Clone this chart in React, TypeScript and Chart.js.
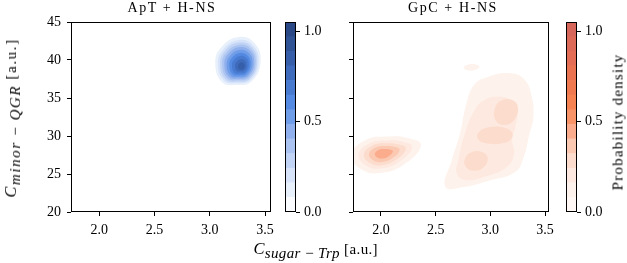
import React, { useEffect, useLayoutEffect, useRef } from 'react';
import { Chart, registerables } from 'chart.js';

Chart.register(...registerables);

// ---------- axis ticks / colorbar levels ----------
const xTicks = [2.0, 2.5, 3.0, 3.5];
const yTicks = [20, 25, 30, 35, 40, 45];
const cbarTicks = [0.0, 0.5, 1.0];
const cbarLevels = [0, 0.081, 0.162, 0.242, 0.323, 0.404, 0.485, 0.565, 0.646, 0.727, 0.808, 0.888, 0.969, 1.05];

// ---------- colours of the contour bands (style) ----------
const blueBands = [
  'rgb(250,252,255)', 'rgb(232,240,252)', 'rgb(214,227,249)', 'rgb(194,212,245)',
  'rgb(170,195,240)', 'rgb(143,176,236)', 'rgb(112,157,232)', 'rgb(84,138,226)',
  'rgb(72,122,208)', 'rgb(63,107,188)', 'rgb(55,94,168)', 'rgb(48,83,150)', 'rgb(42,72,134)',
];
const orangeBands = [
  'rgb(255,248,245)', 'rgb(254,242,236)', 'rgb(253,233,223)', 'rgb(252,220,205)',
  'rgb(251,200,178)', 'rgb(250,172,140)', 'rgb(248,148,104)', 'rgb(246,130,82)',
  'rgb(240,121,80)', 'rgb(234,115,82)', 'rgb(228,110,85)', 'rgb(221,106,88)', 'rgb(214,102,90)',
];

type Pt = [number, number];

// ---------- ApT + H-NS density contours (x = C_sugar-Trp, y = C_minor-QGR) ----------
const aptL1: Pt[] = [[3.46, 39.8], [3.40, 42.3], [3.25, 43.0], [3.10, 41.6], [3.05, 39.5], [3.11, 37.1], [3.24, 36.7], [3.38, 37.2]];
const aptL2: Pt[] = [[3.443, 39.73], [3.389, 41.98], [3.254, 42.61], [3.119, 41.35], [3.074, 39.46], [3.128, 37.30], [3.245, 36.94], [3.371, 37.39]];
const aptL3: Pt[] = [[3.429, 39.67], [3.380, 41.72], [3.257, 42.30], [3.134, 41.15], [3.093, 39.43], [3.142, 37.46], [3.249, 37.13], [3.364, 37.54]];
const aptL4: Pt[] = [[3.416, 39.62], [3.371, 41.47], [3.260, 41.99], [3.149, 40.95], [3.112, 39.40], [3.157, 37.62], [3.253, 37.32], [3.357, 37.69]];
const aptL5: Pt[] = [[3.402, 39.56], [3.363, 41.21], [3.264, 41.67], [3.165, 40.75], [3.132, 39.36], [3.171, 37.78], [3.257, 37.52], [3.349, 37.85]];
const aptL6: Pt[] = [[3.387, 39.50], [3.353, 40.92], [3.267, 41.32], [3.182, 40.53], [3.153, 39.33], [3.187, 37.96], [3.262, 37.73], [3.341, 38.02]];
const aptL7: Pt[] = [[3.370, 39.43], [3.342, 40.60], [3.271, 40.93], [3.201, 40.28], [3.177, 39.29], [3.205, 38.16], [3.267, 37.97], [3.332, 38.21]];
const aptL8: Pt[] = [[3.353, 39.36], [3.331, 40.28], [3.275, 40.54], [3.220, 40.03], [3.201, 39.25], [3.223, 38.36], [3.272, 38.21], [3.323, 38.40]];
const aptL9: Pt[] = [[3.334, 39.28], [3.319, 39.93], [3.280, 40.11], [3.241, 39.75], [3.228, 39.20], [3.243, 38.58], [3.277, 38.48], [3.313, 38.61]];
const aptL10: Pt[] = [[3.316, 39.21], [3.307, 39.58], [3.284, 39.69], [3.262, 39.48], [3.254, 39.16], [3.263, 38.80], [3.283, 38.74], [3.304, 38.82]];

// ---------- GpC + H-NS density contours ----------
const gpcLeftL1: Pt[] = [[2.366, 28.82], [2.244, 29.74], [2.065, 29.93], [1.86, 29.47], [1.726, 27.5], [1.815, 25.66], [1.993, 25.13], [2.217, 26.32]];
const gpcLeftL2: Pt[] = [[2.286, 28.56], [2.192, 29.27], [2.055, 29.42], [1.897, 29.06], [1.794, 27.55], [1.862, 26.13], [1.999, 25.72], [2.172, 26.64]];
const gpcLeftL3: Pt[] = [[2.228, 28.37], [2.154, 28.92], [2.047, 29.04], [1.924, 28.76], [1.844, 27.58], [1.897, 26.48], [2.004, 26.16], [2.138, 26.87]];
const gpcLeftL4: Pt[] = [[2.172, 28.19], [2.119, 28.60], [2.040, 28.68], [1.950, 28.48], [1.891, 27.61], [1.930, 26.80], [2.008, 26.57], [2.107, 27.09]];
const gpcLeftL5: Pt[] = [[2.110, 27.99], [2.078, 28.23], [2.032, 28.28], [1.978, 28.16], [1.944, 27.65], [1.967, 27.17], [2.013, 27.03], [2.071, 27.34]];
const gpcRightL1: Pt[] = [
  [2.589, 23.33], [2.648, 26.84], [2.723, 30.36], [2.782, 34.3], [2.851, 36.71], [2.976, 37.76], [3.184, 38.25],
  [3.315, 37.37], [3.378, 35.17], [3.393, 32.54], [3.351, 29.91], [3.306, 27.28], [3.226, 25.26], [2.976, 24.08], [2.768, 23.33],
];
const gpcTopL1: Pt[] = [[2.90, 39.1], [2.86, 39.45], [2.80, 39.4], [2.755, 39.0], [2.79, 38.65], [2.86, 38.68]];
const gpcRightL2: Pt[] = [
  [2.693, 25.09], [2.708, 26.84], [2.768, 30.36], [2.857, 33.42], [2.946, 34.74], [3.065, 35.17], [3.184, 34.74],
  [3.244, 33.42], [3.229, 31.22], [3.199, 29.47], [3.217, 27.72], [3.154, 25.96], [2.946, 24.64], [2.768, 24.21],
];
const gpcBlobAL3: Pt[] = [[3.253, 33.68], [3.199, 34.74], [3.092, 34.61], [3.038, 33.42], [3.047, 32.11], [3.119, 31.45], [3.208, 31.97]];
const gpcBlobBL3: Pt[] = [[3.199, 30.39], [3.137, 31.05], [3.003, 31.18], [2.896, 30.53], [2.887, 29.61], [2.976, 29.01], [3.119, 29.08], [3.19, 29.61]];
const gpcBlobCL3: Pt[] = [[2.976, 27.11], [2.922, 27.89], [2.833, 27.89], [2.771, 27.11], [2.771, 26.05], [2.833, 25.46], [2.931, 25.79]];

const aptContours = [
  { level: 1, pts: aptL1 }, { level: 2, pts: aptL2 }, { level: 3, pts: aptL3 }, { level: 4, pts: aptL4 },
  { level: 5, pts: aptL5 }, { level: 6, pts: aptL6 }, { level: 7, pts: aptL7 }, { level: 8, pts: aptL8 },
  { level: 9, pts: aptL9 }, { level: 10, pts: aptL10 },
];
const gpcContours = [
  { level: 1, pts: gpcLeftL1 }, { level: 2, pts: gpcLeftL2 }, { level: 3, pts: gpcLeftL3 },
  { level: 4, pts: gpcLeftL4 }, { level: 5, pts: gpcLeftL5 },
  { level: 1, pts: gpcRightL1 }, { level: 1, pts: gpcTopL1 }, { level: 2, pts: gpcRightL2 },
  { level: 3, pts: gpcBlobAL3 }, { level: 3, pts: gpcBlobBL3 }, { level: 3, pts: gpcBlobCL3 },
];

const FONT = 'Liberation Serif';
const tickFont = { family: FONT, size: 14 };

// close every contour line so the spline runs smoothly round the loop
const loopPlugin = {
  id: 'closedContours',
  afterDatasetsUpdate(chart: any) {
    chart.data.datasets.forEach((_: any, i: number) => {
      const line = chart.getDatasetMeta(i).dataset;
      if (line) {
        line._loop = true;
        line._fullLoop = true;
        line._pointsUpdated = false;
        line._segments = undefined;
        line._path = undefined;
      }
    });
  },
};

const framePlugin = {
  id: 'frame',
  afterDraw(chart: any) {
    const { ctx, chartArea } = chart;
    const { left, top, right, bottom } = chartArea;
    ctx.save();
    ctx.strokeStyle = '#000';
    ctx.lineWidth = 1;
    ctx.strokeRect(Math.round(left) + 0.5, Math.round(top) + 0.5, Math.round(right - left) - 1, Math.round(bottom - top) - 1);
    ctx.restore();
  },
};

const tickGrid = { drawOnChartArea: false, drawTicks: true, tickLength: 4, color: '#000', lineWidth: 1 };

function makePanel(canvas: HTMLCanvasElement, contours: { level: number; pts: Pt[] }[], bands: string[], xMax: number, showYLabels: boolean, yWidth: number, padRight: number) {
  const datasets = contours.map((c) => ({
    data: c.pts.map(([x, y]) => ({ x, y })),
    backgroundColor: bands[c.level],
    borderColor: 'rgba(0,0,0,0)',
    borderWidth: 0,
    pointRadius: 0,
    fill: 'shape',
    tension: 0.45,
    order: 100 - c.level,
  }));
  return new Chart(canvas, {
    type: 'line',
    data: { datasets } as any,
    options: {
      animation: false,
      responsive: false,
      events: [],
      layout: { padding: { top: 22, bottom: 21, left: 0, right: padRight } },
      plugins: { legend: { display: false }, tooltip: { enabled: false } },
      scales: {
        x: {
          type: 'linear', min: 1.745, max: xMax,
          afterBuildTicks: (s: any) => { s.ticks = xTicks.map((v) => ({ value: v })); },
          afterFit: (s: any) => { s.height = 30; },
          grid: tickGrid, border: { display: false },
          ticks: { font: tickFont, color: '#000', padding: 6, maxRotation: 0, autoSkip: false, callback: (v: any) => Number(v).toFixed(1) },
        },
        y: {
          type: 'linear', min: 20, max: 45,
          afterBuildTicks: (s: any) => { s.ticks = yTicks.map((v) => ({ value: v })); },
          afterFit: (s: any) => { s.width = yWidth; },
          grid: tickGrid, border: { display: false },
          ticks: { display: showYLabels, font: tickFont, color: '#000', padding: 6, callback: (v: any) => String(v) },
        },
      },
    } as any,
    plugins: [loopPlugin, framePlugin],
  });
}

function makeCbar(canvas: HTMLCanvasElement, bands: string[], axisWidth: number, padLeft: number) {
  const datasets = bands.map((c, k) => ({
    data: [[cbarLevels[k], cbarLevels[k + 1]]],
    backgroundColor: c,
    borderWidth: 0,
    barPercentage: 1,
    categoryPercentage: 1,
    grouped: false,
  }));
  return new Chart(canvas, {
    type: 'bar',
    data: { labels: [''], datasets } as any,
    options: {
      animation: false,
      responsive: false,
      events: [],
      layout: { padding: { top: 22, bottom: 51, left: padLeft, right: 0 } },
      plugins: { legend: { display: false }, tooltip: { enabled: false } },
      scales: {
        x: { display: false },
        y: {
          position: 'right', min: 0, max: 1.05,
          afterBuildTicks: (s: any) => { s.ticks = cbarTicks.map((v) => ({ value: v })); },
          afterFit: (s: any) => { s.width = axisWidth; },
          grid: tickGrid, border: { display: false },
          ticks: { font: tickFont, color: '#000', padding: 4, callback: (v: any) => Number(v).toFixed(1) },
        },
      },
    } as any,
    plugins: [framePlugin],
  });
}

const abs = (extra: React.CSSProperties): React.CSSProperties => ({ position: 'absolute', whiteSpace: 'nowrap', color: '#000', fontFamily: FONT, ...extra });

// text block whose letter spacing is tuned so that it spans the reference length
function FitText({ length, style, children }: { length: number; style: React.CSSProperties; children: React.ReactNode }) {
  const ref = useRef<HTMLDivElement>(null);
  useLayoutEffect(() => {
    const el = ref.current;
    if (!el) return;
    el.style.letterSpacing = '0px';
    const w = el.offsetWidth;
    const n = (el.textContent || '').length;
    if (n > 0) el.style.letterSpacing = `${Math.max(-1, (length - w) / n)}px`;
  }, [length]);
  return <div ref={ref} style={style}>{children}</div>;
}

export default function App() {
  const p1 = useRef<HTMLCanvasElement>(null);
  const c1 = useRef<HTMLCanvasElement>(null);
  const p2 = useRef<HTMLCanvasElement>(null);
  const c2 = useRef<HTMLCanvasElement>(null);

  useEffect(() => {
    const charts = [
      makePanel(p1.current!, aptContours, blueBands, 3.557, true, 71, 7),
      makeCbar(c1.current!, blueBands, 34, 5),
      makePanel(p2.current!, gpcContours, orangeBands, 3.54, false, 33, 7),
      makeCbar(c2.current!, orangeBands, 33, 6),
    ];
    return () => charts.forEach((c) => c.destroy());
  }, []);

  const sub: React.CSSProperties = { fontStyle: 'italic', fontSize: 15, position: 'relative', top: 4 };

  return (
    <div style={{ position: 'absolute', left: 0, top: 0, width: 627, height: 263, background: '#fff', overflow: 'hidden' }}>
      <canvas ref={p1} width={280} height={263} style={{ position: 'absolute', left: 0, top: 0 }} />
      <canvas ref={c1} width={50} height={263} style={{ position: 'absolute', left: 280, top: 0 }} />
      <canvas ref={p2} width={240} height={263} style={{ position: 'absolute', left: 320, top: 0 }} />
      <canvas ref={c2} width={50} height={263} style={{ position: 'absolute', left: 560, top: 0 }} />

      <FitText length={89} style={abs({ left: 172, top: 1.3, transform: 'translateX(-50%)', fontSize: 14, lineHeight: '14px' })}>ApT + H-NS</FitText>
      <FitText length={90} style={abs({ left: 453, top: 1.3, transform: 'translateX(-50%)', fontSize: 14, lineHeight: '14px' })}>GpC + H-NS</FitText>

      <FitText length={125} style={abs({ left: 315.7, top: 240.7, transform: 'translateX(-50%)', fontSize: 16.5, lineHeight: '16px' })}>
        <span style={{ fontStyle: 'italic' }}>C</span>
        <span style={sub}>sugar{'\u2009\u2212\u2009'}Trp</span>
        <span style={{ fontSize: 15 }}> [a.u.]</span>
      </FitText>

      <FitText length={159} style={abs({ left: 11, top: 117.5, transform: 'translate(-50%, -50%) rotate(-90deg)', fontSize: 16.5, lineHeight: '16px' })}>
        <span style={{ fontStyle: 'italic' }}>C</span>
        <span style={sub}>minor{'\u2009\u2212\u2009'}QGR</span>
        <span style={{ fontSize: 15 }}> [a.u.]</span>
      </FitText>

      <FitText length={137} style={abs({ left: 618.2, top: 121.5, transform: 'translate(-50%, -50%) rotate(-90deg)', fontSize: 15, lineHeight: '15px' })}>Probability density</FitText>
    </div>
  );
}
